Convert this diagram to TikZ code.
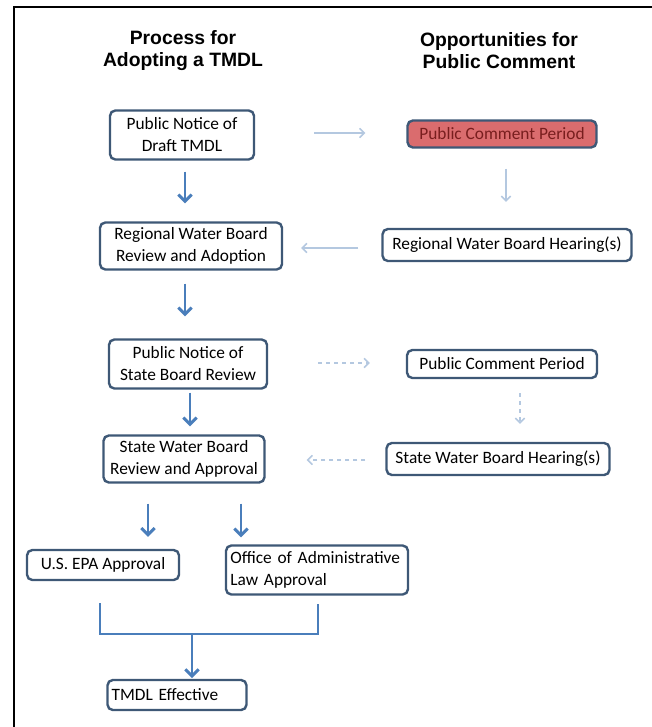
\documentclass[tikz,border=0pt]{standalone}
\usepackage{fontspec}
\setmainfont{Carlito}
\newfontfamily\headfont{Liberation Sans}
\usetikzlibrary{arrows.meta,positioning}
\definecolor{boxline}{RGB}{62,88,118}
\definecolor{flowdark}{RGB}{74,126,187}
\definecolor{flowlight}{RGB}{180,200,224}
\definecolor{redfill}{RGB}{218,108,110}
\definecolor{redtext}{RGB}{120,30,30}

\begin{document}
\begin{tikzpicture}[x=0.75pt,y=-0.75pt,
                    box/.style={draw=boxline, line width=1.8pt, rounded corners=4pt,
                                fill=white, align=center, inner sep=2pt,
                                font=\fontsize{13}{16.5}\selectfont},
                    flow/.style={draw=flowdark, line width=2.2pt,
                                 -{Straight Barb[length=5pt,width=10pt]}},
                    hint/.style={draw=flowlight, line width=1.1pt,
                                 -{Straight Barb[length=3.5pt,width=7pt]}},
                    head/.style={font=\headfont\bfseries\fontsize{14.5}{16.5}\selectfont, align=center}]

  \useasboundingbox (0,0) rectangle (652,727);
  \draw[line width=1.1pt] (14,727) -- (14,7) -- (652,7);

  % column headings
  \node[head] (hproc) at (183,51) {Process for\\Adopting a TMDL};
  \node[head] (hopp)  at (499,51) {Opportunities for\\Public Comment};

  % process steps
  \node[box, minimum width=108pt, minimum height=36.75pt]    (notice)    at (182,135) {Public Notice of\\Draft TMDL};
  \node[box, minimum width=136.5pt, minimum height=35.25pt]  (regional)  at (191,246) {Regional Water Board\\Review and Adoption};
  \node[box, minimum width=118.5pt, minimum height=36.75pt]  (snotice)   at (188,364) {Public Notice of\\State Board Review};
  \node[box, minimum width=120.75pt, minimum height=35.25pt] (sapproval) at (184,459) {State Water Board\\Review and Approval};
  \node[box, minimum width=114pt, minimum height=22.5pt]     (epa)       at (103,565) {U.S. EPA Approval};
  \node[box, minimum width=136.5pt, minimum height=36.75pt, align=left, text width=130pt] (oal) at (317,570) {Office of Administrative\\Law Approval};
  \node[box, minimum width=104.25pt, minimum height=22.5pt, align=left, text width=98pt]  (tmdl) at (177,695) {TMDL Effective};

  % public comment steps
  \node[box, fill=redfill, text=redtext, minimum width=141.75pt, minimum height=20.25pt] (comment1) at (502,134) {Public Comment Period};
  \node[box, minimum width=186.75pt, minimum height=24pt]   (rhearing) at (507,245) {Regional Water Board Hearing(s)};
  \node[box, minimum width=142.5pt, minimum height=21pt]    (comment2) at (502,364) {Public Comment Period};
  \node[box, minimum width=167.25pt, minimum height=24pt]   (shearing) at (498,459) {State Water Board Hearing(s)};

  % columns and rows of the connectors
  \coordinate (c1) at (185,0);
  \coordinate (c2) at (190,0);
  \coordinate (cepa) at (148,0);
  \coordinate (coal) at (241,0);
  \coordinate (cr1) at (506,0);
  \coordinate (cr2) at (520,0);
  \coordinate (r1) at (0,133);
  \coordinate (r2) at (0,248);
  \coordinate (r3) at (0,363);
  \coordinate (r4) at (0,460);
  \coordinate (jl) at (100,634);
  \coordinate (jr) at (318,634);
  \coordinate (jm) at (192,634);

  \path (notice.south -| c1)       edge[flow, shorten <=8.25pt, shorten >=13.5pt] (regional.north -| c1)
        (regional.south -| c1)     edge[flow, shorten <=9.75pt, shorten >=16.5pt] (snotice.north -| c1)
        (snotice.south -| c2)      edge[flow, shorten <=2.25pt, shorten >=6pt]    (sapproval.north -| c2)
        (sapproval.south -| cepa)  edge[flow, shorten <=15pt, shorten >=9pt]      (epa.north -| cepa)
        (sapproval.south -| coal)  edge[flow, shorten <=15pt, shorten >=5.25pt]   (oal.north -| coal)
        (jm)                       edge[flow, shorten >=0.5pt]                    (tmdl.north -| jm);
  \draw[draw=flowdark, line width=2.2pt, shorten <=16.5pt, shorten >=6pt]
        (epa.south -| jl) -- (jl) -- (jr) -- (oal.south -| jr);

  \path (notice.east |- r1)       edge[hint, shorten <=44.25pt, shorten >=30.75pt] (comment1.west |- r1)
        (comment1.south -| cr1)   edge[hint, shorten <=15pt, shorten >=19.5pt]    (rhearing.north -| cr1)
        (rhearing.west |- r2)     edge[hint, shorten <=17.25pt, shorten >=13.5pt] (regional.east |- r2)
        (snotice.east |- r3)      edge[hint, dashed, shorten <=37.5pt, shorten >=27pt] (comment2.west |- r3)
        (comment2.south -| cr2)   edge[hint, dashed, shorten <=10.5pt, shorten >=13.5pt] (shearing.north -| cr2)
        (shearing.west |- r4)     edge[hint, dashed, shorten <=15pt, shorten >=30.75pt] (sapproval.east |- r4);

\end{tikzpicture}
\end{document}
